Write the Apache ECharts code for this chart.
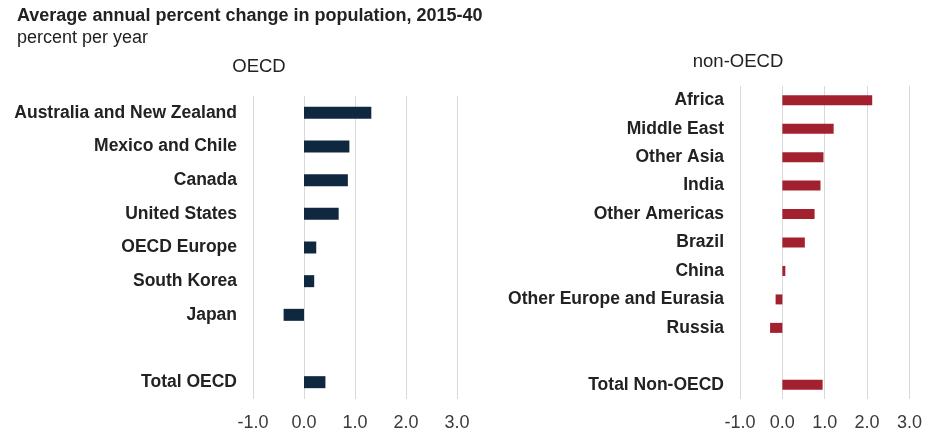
<!DOCTYPE html>
<html>
<head>
<meta charset="utf-8">
<script src="https://cdn.jsdelivr.net/npm/echarts@6/dist/echarts.min.js"></script>
<style>
  html, body { margin: 0; padding: 0; background: #fff; }
  #main { width: 925px; height: 434px; }
</style>
</head>
<body>
<div id="main"></div>
<script>
// OECD panel (blank slot keeps the gap before the total)
var oecdNames = ['Australia and New Zealand', 'Mexico and Chile', 'Canada', 'United States',
  'OECD Europe', 'South Korea', 'Japan', '', 'Total OECD'];
var oecdValues = [1.32, 0.89, 0.86, 0.68, 0.24, 0.20, -0.40, null, 0.42];

// non-OECD panel
var nonOecdNames = ['Africa', 'Middle East', 'Other Asia', 'India', 'Other Americas', 'Brazil',
  'China', 'Other Europe and Eurasia', 'Russia', '', 'Total Non-OECD'];
var nonOecdValues = [2.12, 1.21, 0.97, 0.90, 0.76, 0.53, 0.07, -0.16, -0.29, null, 0.95];

var axisTicks = [-1, 0, 1, 2, 3];

var myChart = echarts.init(document.getElementById('main'));

var font = 'Liberation Sans, Arial, sans-serif';

function valueAxis(idx) {
  return {
    type: 'value',
    gridIndex: idx,
    min: axisTicks[0],
    max: axisTicks[axisTicks.length - 1],
    interval: 1,
    axisLine: {show: false},
    axisTick: {show: false},
    axisLabel: {
      margin: 15,
      fontSize: 18,
      color: '#3a3a3a',
      fontFamily: font,
      formatter: function (v) { return v.toFixed(1); }
    },
    splitLine: {lineStyle: {color: '#d9d9d9', width: 1}}
  };
}

function catAxis(idx, names) {
  return {
    type: 'category',
    gridIndex: idx,
    inverse: true,
    data: names,
    axisLine: {show: false},
    axisTick: {show: false},
    axisLabel: {
      margin: 16,
      fontSize: 17.5,
      fontWeight: 'bold',
      color: '#222',
      fontFamily: font
    }
  };
}

// titles without the default 5px padding so left/top are the text box itself
var option = {
  backgroundColor: '#fff',
  animation: false,
  title: [
    {
      text: 'Average annual percent change in population, 2015-40',
      left: 17, top: 7, padding: 0,
      textStyle: {fontSize: 18, fontWeight: 'bold', color: '#222', fontFamily: font}
    },
    {
      text: 'percent per year',
      left: 17, top: 29, padding: 0,
      textStyle: {fontSize: 18, fontWeight: 'normal', color: '#222', fontFamily: font}
    },
    {
      text: 'OECD',
      left: 259, top: 57, padding: 0, textAlign: 'center',
      textStyle: {fontSize: 18.5, fontWeight: 'normal', color: '#222', fontFamily: font}
    },
    {
      text: 'non-OECD',
      left: 738, top: 52, padding: 0, textAlign: 'center',
      textStyle: {fontSize: 18.5, fontWeight: 'normal', color: '#222', fontFamily: font}
    }
  ],
  grid: [
    {left: 253, right: 468, top: 96, height: 303},
    {left: 740, right: 13, top: 86, height: 313}
  ],
  xAxis: [valueAxis(0), valueAxis(1)],
  yAxis: [catAxis(0, oecdNames), catAxis(1, nonOecdNames)],
  series: [
    {
      type: 'bar',
      xAxisIndex: 0, yAxisIndex: 0,
      barWidth: 12,
      itemStyle: {color: '#10283f'},
      data: oecdValues
    },
    {
      type: 'bar',
      xAxisIndex: 1, yAxisIndex: 1,
      barWidth: 10,
      itemStyle: {color: '#a3212f'},
      data: nonOecdValues
    }
  ]
};

myChart.setOption(option);
</script>
</body>
</html>
